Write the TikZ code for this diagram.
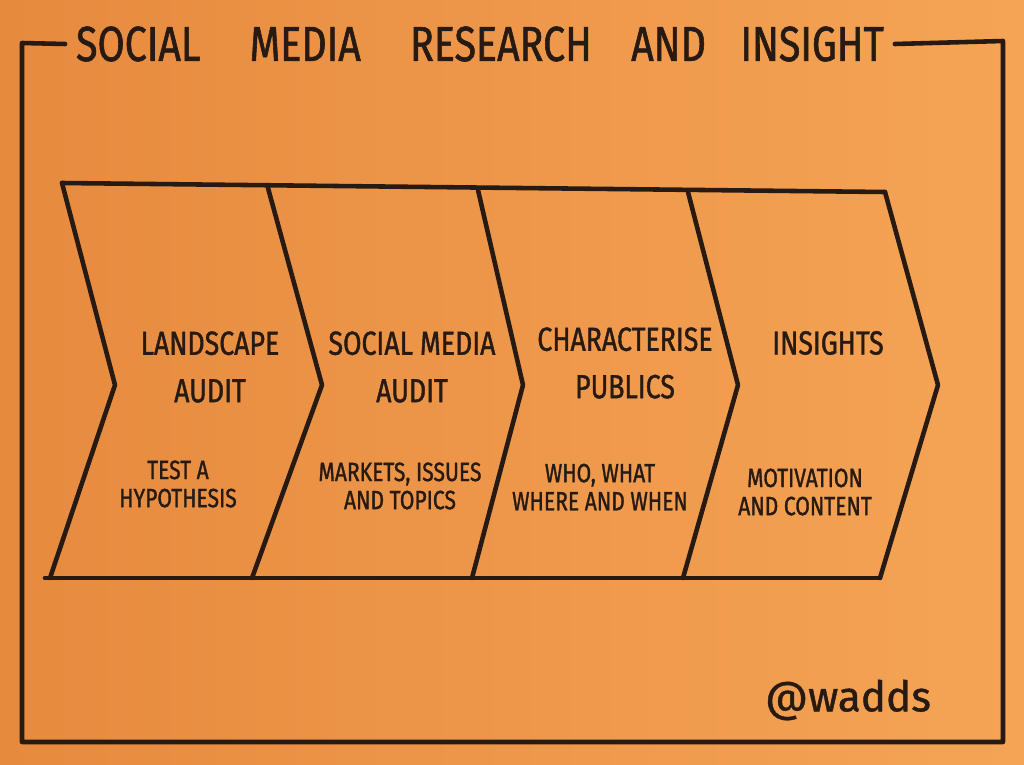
\documentclass[tikz,border=0pt]{standalone}
\usepackage{fontspec}
\newfontfamily\handfont{Fira Sans}[FakeStretch=0.8, FakeBold=1.2]
\newfontfamily\sigfont{Fira Sans}[FakeBold=1]
\definecolor{ink}{RGB}{38,26,18}
\definecolor{paperL}{RGB}{230,138,62}
\definecolor{paperR}{RGB}{245,164,86}
\tikzset{
  ink line/.style={draw=ink, line width=2.6pt, line cap=round, line join=round},
  heading/.style={font=\handfont\fontsize{28}{32}\selectfont, text=ink, inner sep=6pt},
  stage/.style={font=\handfont\fontsize{19}{27}\selectfont, text=ink, align=center},
  detail/.style={font=\handfont\fontsize{15}{16}\selectfont, text=ink, align=center},
}
\begin{document}
\begin{tikzpicture}[x=0.02cm,y=-0.02cm]
    % Fond papier orange
    \shade[left color=paperL, right color=paperR] (0,0) rectangle (1024,764);
    % Titre et cadre
    \node[heading] (title) at (480,44) {SOCIAL\hspace{1em}MEDIA\hspace{1em}RESEARCH\hspace{0.8em}AND\hspace{0.7em}INSIGHT};
    \draw[ink line] (title.west) -- (22,43) -- (22,742) -- (1003,742) -- (1003,41) -- (title.east);
    % Chevrons
    \draw[ink line] (62,183) -- (885,192);
    \draw[ink line] (45,578) -- (880,578);
    \foreach \tx/\ty/\px/\bx in {62/183/115/50, 268/188/322/252, 478/190/523/472, 688/192/738/683, 885/192/938/880}
        \draw[ink line] (\tx,\ty) -- (\px,385) -- (\bx,578);
    % Etapes
    \node[stage] (landscape) at (210,367) {LANDSCAPE\\AUDIT};
    \node[stage] (socialaudit) at (412,367) {SOCIAL MEDIA\\AUDIT};
    \node[stage] (publics) at (625,363) {CHARACTERISE\\PUBLICS};
    \node[stage] (insights) at (828,343) {INSIGHTS};
    \node[detail] (hypothesis) at (178,484) {TEST A\\HYPOTHESIS};
    \node[detail] (topics) at (400,486) {MARKETS, ISSUES\\AND TOPICS};
    \node[detail] (who) at (600,487) {WHO, WHAT\\WHERE AND WHEN};
    \node[detail] (content) at (805,492) {MOTIVATION\\AND CONTENT};
    \node[font=\sigfont\fontsize{24}{24}\selectfont, text=ink] (sig) at (848,700) {@wadds};
\end{tikzpicture}
\end{document}
